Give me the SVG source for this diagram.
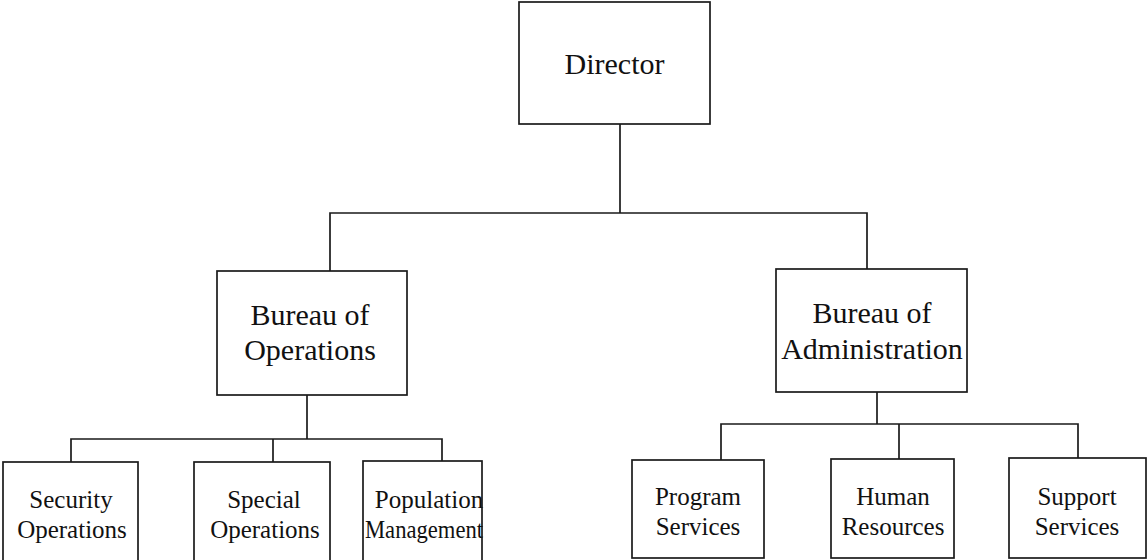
<svg xmlns="http://www.w3.org/2000/svg" width="1147" height="560" viewBox="0 0 1147 560">
<style>
.box{fill:#fff;stroke:#1a1a1a;stroke-width:1.7}
.ln{fill:none;stroke:#1a1a1a;stroke-width:1.7}
.big{font-family:"Liberation Serif","Times New Roman",serif;font-size:30px;fill:#111;text-anchor:middle}
.sm{font-family:"Liberation Serif","Times New Roman",serif;font-size:25px;fill:#111;text-anchor:middle}
</style>
<rect width="1147" height="560" fill="#fff"/>
<g id="connectors">
<polyline class="ln" points="620,124 620,213"/>
<polyline class="ln" points="330,271 330,213 867,213 867,269"/>
<polyline class="ln" points="307,395 307,439"/>
<polyline class="ln" points="71,462 71,439 442,439 442,472"/>
<polyline class="ln" points="273,439 273,462"/>
<polyline class="ln" points="877,392 877,424"/>
<polyline class="ln" points="721,460 721,424 1078,424 1078,458"/>
<polyline class="ln" points="899,424 899,459"/>
</g>
<g id="director">
<rect class="box" x="519" y="2" width="191" height="122"/>
<text class="big" x="614.5" y="74">Director</text>
</g>
<g id="bureau-operations">
<rect class="box" x="217" y="271" width="190" height="124"/>
<text class="big" x="310" y="325">Bureau of</text>
<text class="big" x="310" y="360">Operations</text>
</g>
<g id="bureau-administration">
<rect class="box" x="776" y="269" width="191" height="123"/>
<text class="big" x="872" y="323">Bureau of</text>
<text class="big" x="872" y="359">Administration</text>
</g>
<g id="security-operations">
<rect class="box" x="3" y="462" width="135" height="110"/>
<text class="sm" x="71" y="508">Security</text>
<text class="sm" x="72" y="538">Operations</text>
</g>
<g id="special-operations">
<rect class="box" x="194" y="462" width="136" height="110"/>
<text class="sm" x="264" y="508">Special</text>
<text class="sm" x="265" y="538">Operations</text>
</g>
<g id="population-management">
<rect class="box" x="363" y="461" width="119" height="111"/>
<text class="sm" x="429" y="508">Population</text>
<text class="sm" x="424" y="538" textLength="118" lengthAdjust="spacingAndGlyphs">Management</text>
</g>
<g id="program-services">
<rect class="box" x="632" y="460" width="132" height="98"/>
<text class="sm" x="698" y="505">Program</text>
<text class="sm" x="698" y="535">Services</text>
</g>
<g id="human-resources">
<rect class="box" x="831" y="459" width="123" height="99"/>
<text class="sm" x="893" y="505">Human</text>
<text class="sm" x="893" y="535">Resources</text>
</g>
<g id="support-services">
<rect class="box" x="1009" y="458" width="137" height="100"/>
<text class="sm" x="1077" y="505">Support</text>
<text class="sm" x="1077" y="535">Services</text>
</g>
</svg>
